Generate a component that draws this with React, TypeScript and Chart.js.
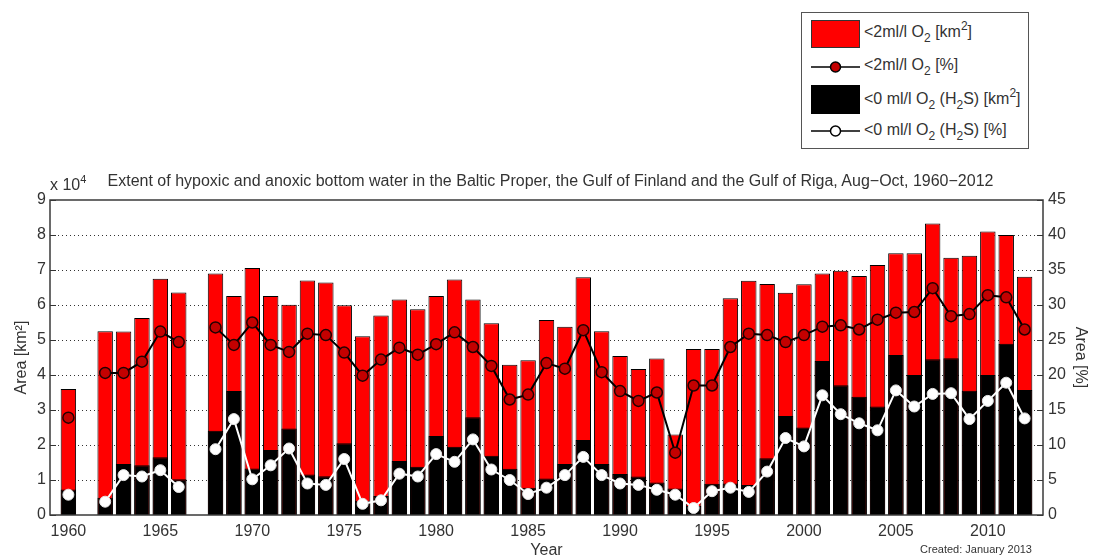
import React, { useEffect, useRef } from "react";
import { Chart, registerables } from "chart.js";

Chart.register(...registerables);

const years: number[] = [
  1960, 1961, 1962, 1963, 1964, 1965, 1966, 1967, 1968, 1969,
  1970, 1971, 1972, 1973, 1974, 1975, 1976, 1977, 1978, 1979,
  1980, 1981, 1982, 1983, 1984, 1985, 1986, 1987, 1988, 1989,
  1990, 1991, 1992, 1993, 1994, 1995, 1996, 1997, 1998, 1999,
  2000, 2001, 2002, 2003, 2004, 2005, 2006, 2007, 2008, 2009,
  2010, 2011, 2012,
];

// <2 ml/l O2 area [km²]
const hypoxicArea: (number | null)[] = [
  36000, null, 52500, 52400, 56300, 67500, 63600, null, 69000, 62600,
  70600, 62600, 60100, 67000, 66400, 59900, 51100, 57000, 61600, 58800,
  62600, 67300, 61600, 54800, 42900, 44200, 55700, 53800, 67900, 52500,
  45400, 41700, 44700, 23000, 47400, 47400, 61900, 66900, 66000, 63500,
  65900, 69000, 69800, 68300, 71400, 74800, 74800, 83300, 73500, 74100,
  81000, 80000, 68100,
];

// <0 ml/l O2 (H2S) area [km²]
const anoxicArea: (number | null)[] = [
  7300, null, 4900, 14600, 14200, 16500, 10200, null, 24100, 35400,
  13300, 18600, 24700, 11600, 11100, 20500, 4100, 5400, 15400, 13800,
  22600, 19500, 27900, 16900, 13200, 7800, 10400, 14600, 21400, 14600,
  11700, 11000, 9300, 7600, 2600, 8900, 9000, 8600, 16200, 28300,
  25000, 44000, 37100, 33800, 31000, 45700, 40000, 44500, 44800, 35500,
  40000, 48900, 35700,
];

// <2 ml/l O2 [%]
const hypoxicPct: (number | null)[] = [
  13.9, null, 20.3, 20.3, 21.9, 26.2, 24.7, null, 26.8, 24.3,
  27.5, 24.3, 23.3, 25.9, 25.7, 23.2, 19.9, 22.2, 23.9, 22.9,
  24.4, 26.1, 24.0, 21.3, 16.5, 17.2, 21.7, 20.9, 26.4, 20.4,
  17.7, 16.3, 17.5, 8.9, 18.5, 18.5, 24.0, 25.9, 25.7, 24.7,
  25.7, 26.9, 27.1, 26.5, 27.9, 28.9, 29.0, 32.4, 28.4, 28.7,
  31.4, 31.1, 26.5,
];

// <0 ml/l O2 (H2S) [%]
const anoxicPct: (number | null)[] = [
  2.9, null, 1.9, 5.7, 5.5, 6.4, 4.0, null, 9.4, 13.7,
  5.1, 7.1, 9.5, 4.5, 4.3, 8.0, 1.6, 2.1, 5.9, 5.5,
  8.7, 7.6, 10.8, 6.5, 5.0, 3.0, 3.9, 5.7, 8.3, 5.7,
  4.5, 4.3, 3.6, 2.9, 1.0, 3.4, 3.9, 3.3, 6.2, 11.0,
  9.8, 17.1, 14.4, 13.1, 12.1, 17.8, 15.5, 17.3, 17.4, 13.7,
  16.3, 18.9, 13.8,
];

const xTickYears: number[] = [1960, 1965, 1970, 1975, 1980, 1985, 1990, 1995, 2000, 2005, 2010];

const FONT = "'Liberation Sans', Arial, Helvetica, sans-serif";
const TEXT = "#333333";

const toXY = (arr: (number | null)[]) => years.map((yr, i) => ({ x: yr, y: arr[i] }));

const framePlugin = {
  id: "matlabFrame",
  beforeDatasetsDraw(chart: any) {
    const { ctx, chartArea, scales } = chart;
    const { left, right } = chartArea;
    ctx.save();
    ctx.strokeStyle = "#333";
    ctx.lineWidth = 1;
    ctx.setLineDash([1, 3]);
    scales.y.ticks.forEach((t: any) => {
      if (t.value <= scales.y.min || t.value >= scales.y.max) return;
      const y = Math.round(scales.y.getPixelForValue(t.value)) + 0.5;
      ctx.beginPath();
      ctx.moveTo(left, y);
      ctx.lineTo(right, y);
      ctx.stroke();
    });
    ctx.restore();
  },
  afterDraw(chart: any) {
    const { ctx, chartArea, scales } = chart;
    const { left, right, top, bottom } = chartArea;
    ctx.save();
    ctx.strokeStyle = "#333";
    ctx.lineWidth = 1;
    scales.y.ticks.forEach((t: any) => {
      const y = Math.round(scales.y.getPixelForValue(t.value)) + 0.5;
      ctx.beginPath();
      ctx.moveTo(left, y);
      ctx.lineTo(left + 6, y);
      ctx.moveTo(right - 6, y);
      ctx.lineTo(right, y);
      ctx.stroke();
    });
    ctx.strokeStyle = "#3a3a3a";
    ctx.lineWidth = 1.5;
    ctx.strokeRect(left, top, right - left, bottom - top);
    ctx.restore();
  },
};

export default function App() {
  const canvasRef = useRef<HTMLCanvasElement | null>(null);

  useEffect(() => {
    if (!canvasRef.current) return;
    const chart = new Chart(canvasRef.current, {
      type: "bar",
      data: {
        datasets: [
          {
            type: "line",
            label: "<0 ml/l O2 (H2S) [%]",
            data: toXY(anoxicPct),
            yAxisID: "y1",
            borderColor: "#ffffff",
            borderWidth: 2,
            pointRadius: 5.5,
            pointBackgroundColor: "#ffffff",
            pointBorderColor: "#e6e6e6",
            pointBorderWidth: 1,
            tension: 0,
            spanGaps: false,
            order: 0,
          },
          {
            type: "line",
            label: "<2ml/l O2 [%]",
            data: toXY(hypoxicPct),
            yAxisID: "y1",
            borderColor: "#000000",
            borderWidth: 2,
            pointRadius: 5.5,
            pointBackgroundColor: "#c40000",
            pointBorderColor: "#220000",
            pointBorderWidth: 1.5,
            tension: 0,
            spanGaps: false,
            order: 1,
          },
          {
            type: "bar",
            label: "<0 ml/l O2 (H2S) [km2]",
            data: toXY(anoxicArea),
            yAxisID: "y",
            backgroundColor: "#000000",
            borderColor: "#000000",
            borderWidth: 1,
            grouped: false,
            barPercentage: 0.84,
            categoryPercentage: 1,
            order: 2,
          },
          {
            type: "bar",
            label: "<2ml/l O2 [km2]",
            data: toXY(hypoxicArea),
            yAxisID: "y",
            backgroundColor: "#ff0000",
            borderColor: "#000000",
            borderWidth: 1,
            grouped: false,
            barPercentage: 0.84,
            categoryPercentage: 1,
            order: 3,
          },
        ] as any,
      },
      options: {
        responsive: false,
        maintainAspectRatio: false,
        animation: false,
        layout: { padding: { top: 200, left: 0, right: 0, bottom: 0 } },
        plugins: {
          legend: { display: false },
          tooltip: { enabled: false },
        },
        scales: {
          x: {
            type: "linear",
            min: 1959,
            max: 2013,
            offset: false,
            grid: { display: false, drawTicks: false },
            border: { display: false },
            afterBuildTicks: (scale: any) => {
              scale.ticks = xTickYears.map((v) => ({ value: v }));
            },
            afterFit: (scale: any) => {
              scale.height = 45;
            },
            ticks: {
              padding: 7,
              color: TEXT,
              font: { family: FONT, size: 16 },
              maxRotation: 0,
              autoSkip: false,
              callback: (v: any) => String(v),
            },
            title: {
              display: true,
              text: "Year",
              color: TEXT,
              font: { family: FONT, size: 16 },
              padding: { top: 0, bottom: 0 },
            },
          },
          y: {
            type: "linear",
            position: "left",
            min: 0,
            max: 90000,
            grid: { display: false, drawTicks: false },
            border: { display: false },
            afterFit: (scale: any) => {
              scale.width = 50;
            },
            ticks: {
              stepSize: 10000,
              padding: 4,
              color: TEXT,
              font: { family: FONT, size: 16 },
              callback: (v: any) => String(Math.round(Number(v) / 10000)),
            },
            title: {
              display: true,
              text: "Area [km²]",
              color: TEXT,
              font: { family: FONT, size: 16 },
              padding: { top: 12, bottom: 0 },
            },
          },
          y1: {
            type: "linear",
            position: "right",
            min: 0,
            max: 45,
            grid: { display: false, drawTicks: false },
            border: { display: false },
            afterFit: (scale: any) => {
              scale.width = 50;
            },
            ticks: {
              stepSize: 5,
              padding: 5,
              color: TEXT,
              font: { family: FONT, size: 16 },
            },
            title: {
              display: true,
              text: "Area [%]",
              color: TEXT,
              font: { family: FONT, size: 16 },
              padding: { top: 3, bottom: 0 },
            },
          },
        },
      } as any,
      plugins: [framePlugin],
    });
    return () => chart.destroy();
  }, []);

  const legendText: React.CSSProperties = {
    position: "absolute",
    left: 62,
    fontFamily: FONT,
    fontSize: 16,
    color: TEXT,
    whiteSpace: "nowrap",
    lineHeight: "18px",
  };
  const sub: React.CSSProperties = { fontSize: 12, verticalAlign: "-5px", lineHeight: 0 };
  const sup: React.CSSProperties = { fontSize: 12, verticalAlign: "7px", lineHeight: 0 };

  return (
    <div style={{ position: "absolute", left: 0, top: 0, width: 1093, height: 560, background: "#fff" }}>
      <canvas ref={canvasRef} width={1093} height={560} style={{ display: "block", width: 1093, height: 560 }} />
      <div
        style={{
          position: "absolute",
          left: 0,
          width: 1093,
          top: 172,
          textAlign: "center",
          fontFamily: FONT,
          fontSize: 16,
          color: TEXT,
          whiteSpace: "nowrap",
          paddingLeft: 4,
        }}
      >
        Extent of hypoxic and anoxic bottom water in the Baltic Proper, the Gulf of Finland and the Gulf of Riga, Aug−Oct, 1960−2012
      </div>
      <div style={{ position: "absolute", left: 50, top: 176, fontFamily: FONT, fontSize: 16, color: TEXT, whiteSpace: "nowrap" }}>
        x 10<span style={{ fontSize: 11, verticalAlign: "7px", lineHeight: 0 }}>4</span>
      </div>
      <div
        style={{
          position: "absolute",
          right: 1093 - 1032,
          top: 543,
          fontFamily: FONT,
          fontSize: 11,
          color: TEXT,
          whiteSpace: "nowrap",
        }}
      >
        Created: January 2013
      </div>
      <div
        style={{
          position: "absolute",
          left: 801,
          top: 12,
          width: 226,
          height: 135,
          border: "1px solid #555",
          background: "#fff",
        }}
      >
        <div style={{ position: "absolute", left: 9, top: 7, width: 47, height: 26, background: "#ff0000", border: "1px solid #333" }} />
        <div style={{ ...legendText, top: 10 }}>
          &lt;2ml/l O<span style={sub}>2</span> [km<span style={sup}>2</span>]
        </div>
        <svg style={{ position: "absolute", left: 9, top: 44 }} width={49} height={20}>
          <line x1={0} y1={10} x2={49} y2={10} stroke="#000" strokeWidth={1.5} />
          <circle cx={24.5} cy={10} r={5} fill="#c40000" stroke="#000" strokeWidth={1.5} />
        </svg>
        <div style={{ ...legendText, top: 43 }}>
          &lt;2ml/l O<span style={sub}>2</span> [%]
        </div>
        <div style={{ position: "absolute", left: 9, top: 72, width: 47, height: 27, background: "#000", border: "1px solid #000" }} />
        <div style={{ ...legendText, top: 77 }}>
          &lt;0 ml/l O<span style={sub}>2</span> (H<span style={sub}>2</span>S) [km<span style={sup}>2</span>]
        </div>
        <svg style={{ position: "absolute", left: 9, top: 108 }} width={49} height={20}>
          <line x1={0} y1={10} x2={49} y2={10} stroke="#000" strokeWidth={1.5} />
          <circle cx={24.5} cy={10} r={5} fill="#fff" stroke="#000" strokeWidth={1.5} />
        </svg>
        <div style={{ ...legendText, top: 108 }}>
          &lt;0 ml/l O<span style={sub}>2</span> (H<span style={sub}>2</span>S) [%]
        </div>
      </div>
    </div>
  );
}
